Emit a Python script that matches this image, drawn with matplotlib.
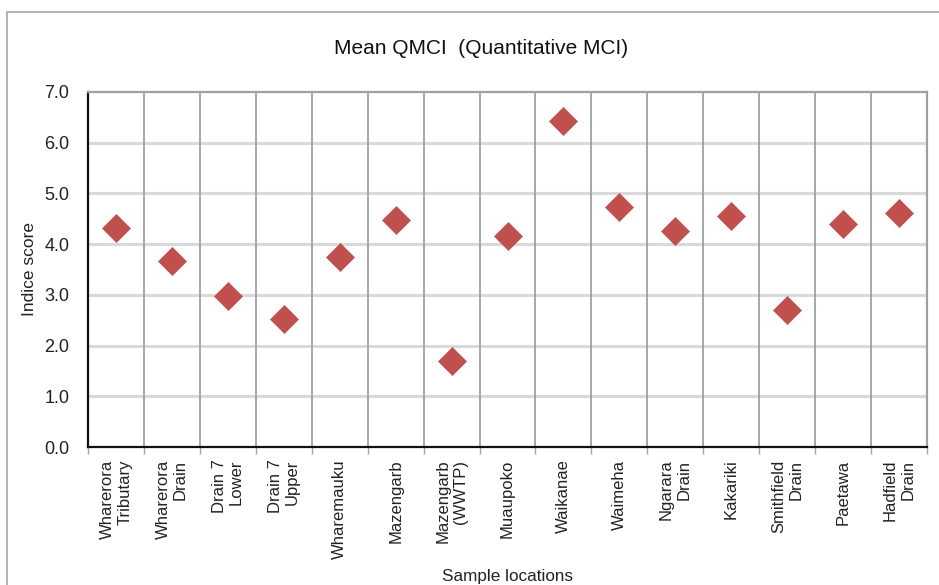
import matplotlib
matplotlib.use("Agg")
import matplotlib.pyplot as plt
from matplotlib.patches import Rectangle
import numpy as np

plt.rcParams['font.family'] = ['Liberation Sans', 'DejaVu Sans']

categories = ["Wharerora\nTributary", "Wharerora\nDrain", "Drain 7\nLower", "Drain 7\nUpper",
              "Wharemauku", "Mazengarb", "Mazengarb\n(WWTP)", "Muaupoko", "Waikanae",
              "Waimeha", "Ngarara\nDrain", "Kakariki", "Smithfield\nDrain", "Paetawa",
              "Hadfield\nDrain"]
qmci = [4.32, 3.67, 2.98, 2.52, 3.74, 4.48, 1.70, 4.16, 6.42, 4.73, 4.26, 4.56, 2.70, 4.40, 4.62]
yticks = [0.0, 1.0, 2.0, 3.0, 4.0, 5.0, 6.0, 7.0]
ytick_labels = ["0.0", "1.0", "2.0", "3.0", "4.0", "5.0", "6.0", "7.0"]

W, H = 939, 585
fig = plt.figure(figsize=(W / 100, H / 100), dpi=100)
fig.patch.set_facecolor('white')

# outer chart border
fig.patches.append(Rectangle((7 / W, -0.1), 1.2, 1 - 12 / H + 0.1, transform=fig.transFigure,
                             fill=False, edgecolor='#A6A6A6', linewidth=1.2, zorder=0))

left, right, top, bottom = 88, 927, 92, 447
ax = fig.add_axes([left / W, 1 - bottom / H, (right - left) / W, (bottom - top) / H])

x = np.arange(len(categories))
ax.plot(x, qmci, linestyle='none', marker='D', markersize=14.5, markeredgewidth=0.5,
        color='#C0504D', markeredgecolor='#C0504D', zorder=3, clip_on=False)

ax.set_xlim(-0.5, len(categories) - 0.5)
ax.set_ylim(0, 7)

ax.set_yticks(yticks)
ax.set_yticklabels(ytick_labels, fontsize=13, color='#222222')
ax.tick_params(axis='y', length=0, pad=13.5)

ax.set_xticks(x)
ax.set_xticklabels(categories, rotation=90, fontsize=12, color='#222222',
                   ha='center', va='top', multialignment='right')
ax.tick_params(axis='x', which='major', length=0, pad=9)
ax.set_xticks(np.arange(-0.5, len(categories)), minor=True)
ax.tick_params(axis='x', which='minor', length=5, width=1, color='#A6A6A6', direction='out')

# grid
for yv in yticks[1:-1]:
    ax.axhline(yv, color='#D9D9D9', linewidth=2.2, zorder=1)
for xv in np.arange(0.5, len(categories) - 0.5):
    ax.axvline(xv, color='#A0A0A0', linewidth=1.3, zorder=1.5)

for s in ['top', 'right']:
    ax.spines[s].set_color('#A0A0A0')
    ax.spines[s].set_linewidth(1.6)
for s in ['left', 'bottom']:
    ax.spines[s].set_color('#111111')
    ax.spines[s].set_linewidth(1.6)

ax.set_ylabel("Indice score", fontsize=12.5, color='#222222')
ax.yaxis.set_label_coords(-(left - 37) / (right - left), 0.5)

fig.text(508 / W, 1 - 577 / H, "Sample locations", fontsize=12.3, color='#222222',
         ha='center', va='center')
fig.text(481 / W, 1 - 48 / H, "Mean QMCI  (Quantitative MCI)", fontsize=15, color='#111111',
         ha='center', va='center')

fig.savefig("out.png", dpi=100)
